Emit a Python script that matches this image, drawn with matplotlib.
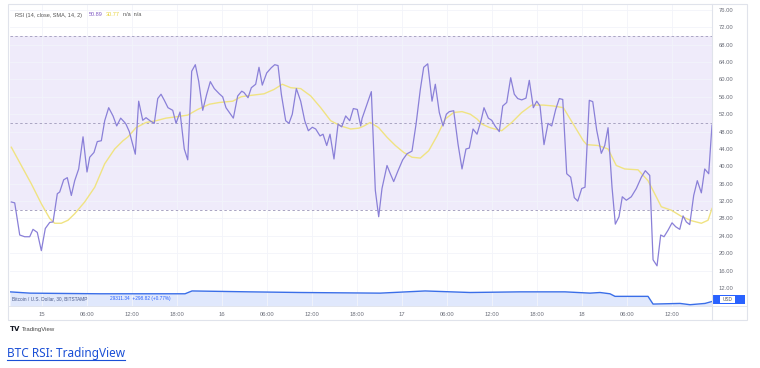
import matplotlib
matplotlib.use("Agg")
import matplotlib.pyplot as plt
from matplotlib.patches import Rectangle
from matplotlib.lines import Line2D

# ---- data (hours since 15th 00:00) ----
rsi_hours = [-4.09, -3.64, -2.97, -2.31, -1.64, -1.2, -0.63, -0.09, 0.44, 1.03, 1.47, 2.04, 2.36,
             2.89, 3.37, 3.91, 4.36, 4.89, 5.47, 6.0, 6.36, 6.93, 7.37, 7.91, 8.36, 8.89, 9.47,
             9.96, 10.49, 11.03, 11.2, 11.64, 12.44, 12.89, 13.43, 13.87, 14.4, 14.97, 15.43,
             15.87, 16.31, 16.8, 17.43, 17.87, 18.4, 18.97, 19.43, 19.96, 20.44, 20.89, 21.43,
             21.96, 22.44, 22.97, 23.64, 24.09, 24.53, 25.51, 26.09, 26.63, 26.93, 27.47, 27.91,
             28.49, 28.93, 29.37, 29.96, 30.57, 31.03, 31.47, 31.91, 32.49, 32.93, 33.37, 33.91,
             34.49, 35.03, 35.51, 36.04, 36.49, 37.07, 37.47, 37.96, 38.4, 38.93, 39.47, 39.96,
             40.49, 41.03, 41.51, 42.04, 42.49, 42.67, 43.33, 43.91, 44.44, 44.89, 45.33, 46.0,
             46.44, 46.89, 47.47, 48.09, 48.67, 49.33, 49.87, 50.44, 50.89, 51.43, 52.0, 52.44,
             52.97, 53.47, 53.91, 54.31, 54.89, 55.47, 56.0, 56.53, 56.97, 57.47, 58.0, 58.53,
             58.93, 59.51, 59.96, 60.4, 60.97, 61.43, 61.96, 62.49, 62.97, 63.43, 63.96, 64.53,
             64.97, 65.51, 65.96, 66.4, 66.93, 67.47, 67.96, 68.49, 68.97, 69.43, 69.96, 70.49,
             70.97, 71.43, 71.96, 72.4, 72.97, 73.43, 73.96, 74.57, 75.03, 75.47, 76.0, 76.44,
             76.93, 77.37, 77.91, 78.57, 79.24, 79.91, 80.44, 81.03, 81.47, 82.0, 82.49, 82.93,
             83.47, 84.0, 84.49, 85.03, 85.47, 85.91, 86.36, 86.89, 87.37, 87.91, 88.36, 88.89,
             89.33]
rsi_values = [31.8, 31.6, 24.2, 23.8, 23.8, 25.5, 24.8, 20.6, 25.7, 27.1, 27.2, 33.7, 34.1,
              36.9, 37.4, 33.3, 36.7, 39.4, 46.8, 38.7, 42.1, 43.2, 45.7, 45.9, 50.5, 53.5, 51.6,
              49.3, 51.1, 50.1, 49.7, 48.0, 42.8, 55.0, 50.6, 51.2, 50.5, 49.9, 55.6,
              56.6, 55.2, 53.5, 52.9, 49.9, 52.5, 44.0, 41.5, 61.9, 63.4, 59.6, 52.9,
              56.6, 59.5, 57.9, 56.7, 56.0, 53.5, 51.1, 56.2, 57.3, 57.0, 55.8, 58.1,
              58.9, 62.8, 58.7, 61.5, 62.7, 63.4, 63.2, 56.6, 50.5, 49.9, 52.0, 57.9,
              55.0, 50.5, 48.2, 49.0, 48.6, 47.0, 47.4, 44.8, 47.4, 41.7, 49.7, 49.1,
              51.6, 50.5, 53.3, 53.1, 49.3, 51.0, 54.3, 57.2, 34.5, 28.4, 34.9, 40.2,
              38.3, 36.5, 39.0, 41.5, 42.9, 43.5, 49.7, 57.7, 62.8, 63.6, 55.0, 58.9,
              52.4, 49.3, 52.0, 52.6, 52.8, 45.1, 39.4, 44.0, 44.2, 48.6, 47.4, 50.5,
              53.5, 51.1, 50.6, 49.3, 48.0, 53.9, 54.7, 60.4, 56.6, 55.6, 55.3, 55.7,
              59.8, 53.5, 55.0, 53.9, 45.0, 49.9, 49.3, 53.1, 55.6, 55.4, 38.3, 37.5,
              32.8, 32.0, 34.9, 35.2, 55.2, 54.9, 48.3, 43.0, 44.8, 48.9, 35.2, 26.7,
              28.4, 33.0, 32.2, 33.0, 34.9, 37.5, 39.0, 37.9, 18.5, 17.1, 24.2, 23.8,
              25.3, 27.0, 26.1, 25.5, 28.6, 27.2, 26.6, 33.3, 36.7, 33.9, 39.4, 38.3,
              49.5]

sma_hours = [-4.09, -2.76, -1.43, -0.09, 1.03, 1.69, 2.57, 3.47, 4.36, 5.69, 7.03, 8.36, 9.69,
             10.8, 11.47, 12.53, 13.87, 15.2, 16.53, 17.87, 19.43, 20.76, 22.31, 23.64, 25.43,
             26.53, 27.2, 29.6, 30.93, 32.04, 33.16, 34.49, 35.83, 37.16, 38.49, 39.83, 41.16,
             42.27, 42.93, 43.77, 44.89, 46.0, 47.11, 48.23, 49.33, 50.44, 51.56, 52.67, 53.77,
             54.89, 56.0, 57.11, 58.0, 58.67, 59.73, 61.29, 62.63, 63.96, 65.29, 66.84, 68.17,
             69.51, 70.84, 72.17, 72.63, 74.13, 75.47, 76.57, 77.69, 79.47, 80.8, 81.69, 82.57,
             83.91, 85.24, 86.57, 87.91, 88.8, 89.33]
sma_values = [44.4, 40.2, 36.0, 31.4, 28.0, 26.9, 26.9, 27.6, 29.1, 31.8, 35.2, 40.6, 44.0,
              45.9, 46.8, 48.9, 50.1, 50.5, 51.1, 51.4, 51.8, 53.1, 54.3, 54.7, 55.0,
              56.0, 56.2, 56.7, 57.7, 58.9, 58.1, 57.9, 56.2, 53.5, 50.5, 49.3, 48.6,
              48.8, 49.3, 50.1, 48.9, 46.7, 44.8, 43.2, 42.1, 41.9, 43.6, 47.0, 50.9,
              52.4, 52.6, 52.0, 50.9, 49.7, 48.9, 48.2, 50.1, 52.4, 54.1, 54.1, 53.9,
              53.5, 49.7, 45.9, 45.0, 44.8, 44.0, 40.2, 39.4, 39.2, 36.7, 33.7, 30.7,
              29.9, 28.5, 27.5, 26.9, 27.6, 30.3]

price_hours = [-4.27, -1.6, 7.73, 19.07, 20.0, 27.73, 34.4, 45.07, 51.07, 57.07, 63.73, 69.73,
               73.07, 74.4, 75.73, 76.4, 80.8, 81.47, 85.07, 86.4, 88.4, 89.33]
price_values = [30300, 30200, 30150, 30150, 30370, 30300, 30250, 30200, 30370, 30250, 30300,
                30300, 30200, 30250, 30150, 29950, 29950, 29350, 29400, 29300, 29400, 29550]

tick_hours = [0, 6, 12, 18, 24, 30, 36, 42, 48, 54, 60, 66, 72, 78, 84]
tick_labels = ["15", "06:00", "12:00", "18:00", "16", "06:00", "12:00", "18:00",
               "17", "06:00", "12:00", "18:00", "18", "06:00", "12:00"]
rsi_ticks = [12, 16, 20, 24, 28, 32, 36, 40, 44, 48, 52, 56, 60, 64, 68, 72, 76]
band_levels = [30, 50, 70]

# ---- figure ----
W, H = 760, 368
fig = plt.figure(figsize=(W / 100, H / 100), dpi=100)
fig.patch.set_facecolor("white")


def px_axes(x0, y0, x1, y1, **kw):
    return fig.add_axes([x0 / W, 1 - y1 / H, (x1 - x0) / W, (y1 - y0) / H], **kw)


grid_c = "#f2f4fa"
border_c = "#e0e3eb"
label_c = "#6a6d78"
rsi_c = "#8a80d8"
sma_c = "#f0e382"

xlim = (-4.267, 89.33)

ax = px_axes(10, 5, 712, 288)
ax.set_xlim(*xlim)
ax.set_ylim(12.46, 77.14)
for s in ax.spines.values():
    s.set_visible(False)
ax.set_xticks(tick_hours)
ax.set_xticklabels([])
ax.tick_params(axis="x", length=0)
ax.yaxis.tick_right()
ax.set_yticks(rsi_ticks)
ax.set_yticklabels([f"{v:.2f}" for v in rsi_ticks], fontsize=4.2, color=label_c,
                   family="Liberation Sans")
ax.tick_params(axis="y", length=0, pad=5)
ax.grid(True, color=grid_c, linewidth=0.6)
ax.set_axisbelow(True)

ax.axhspan(band_levels[0], band_levels[2], color="#efebfa", zorder=0.5, linewidth=0)
for lv in band_levels:
    ax.axhline(lv, color="#a9a4c2", linewidth=0.7, linestyle=(0, (2.5, 2.5)), zorder=1)

ax.plot(sma_hours, sma_values, color=sma_c, linewidth=1.0, zorder=2)
ax.plot(rsi_hours, rsi_values, color=rsi_c, linewidth=0.9, zorder=3)

# price pane
axp = px_axes(10, 288, 712, 306)
axp.set_xlim(*xlim)
axp.set_ylim(29200, 30600)
for s in axp.spines.values():
    s.set_visible(False)
axp.set_yticks([])
axp.set_xticks(tick_hours)
axp.set_xticklabels(tick_labels, fontsize=4.2, color=label_c, family="Liberation Sans")
axp.tick_params(axis="x", length=0, pad=4)
axp.grid(True, axis="x", color=grid_c, linewidth=0.6)
axp.fill_between(price_hours, price_values, 29200, color="#e0e8fc", linewidth=0)
axp.plot(price_hours, price_values, color="#3a6ee8", linewidth=1.0)

# borders
fig.add_artist(Rectangle((8 / W, 1 - 320 / H), (747 - 8) / W, (320 - 4) / H,
                         transform=fig.transFigure, fill=False, edgecolor=border_c, linewidth=0.8))
fig.add_artist(Line2D([712 / W, 712 / W], [1 - 320 / H, 1 - 4 / H], transform=fig.transFigure,
                      color=border_c, linewidth=0.8))
fig.add_artist(Line2D([8 / W, 747 / W], [1 - 306 / H, 1 - 306 / H], transform=fig.transFigure,
                      color=border_c, linewidth=0.6))

# legend text
fig.text(15 / W, 1 - 15 / H, "RSI (14, close, SMA, 14, 2)", fontsize=4, color="#555",
         family="Liberation Sans", va="center")
fig.text(89 / W, 1 - 15 / H, "50.89", fontsize=4, color="#7e57c2", family="Liberation Sans",
         va="center")
fig.text(106 / W, 1 - 15 / H, "30.77", fontsize=4, color="#e6d23a", family="Liberation Sans",
         va="center")
fig.text(123 / W, 1 - 15 / H, "n/a  n/a", fontsize=4, color="#555", family="Liberation Sans",
         va="center")

fig.text(12 / W, 1 - 298.5 / H, "Bitcoin / U.S. Dollar, 30, BITSTAMP", fontsize=3.4,
         color="#4a5a8a", family="Liberation Sans", va="center")
fig.text(110 / W, 1 - 298.5 / H, "29311.34  +298.82 (+0.77%)", fontsize=3.4,
         color="#2962ff", family="Liberation Sans", va="center")

# price badge
fig.add_artist(Rectangle((712 / W, 1 - 304 / H), 33 / W, 9 / H, transform=fig.transFigure,
                         facecolor="#2962ff", edgecolor="none"))
fig.add_artist(Rectangle((720 / W, 1 - 303 / H), 15 / W, 7 / H, transform=fig.transFigure,
                         facecolor="white", edgecolor="none"))
fig.text(727.5 / W, 1 - 299.5 / H, "USD", fontsize=3.4, color="#555", ha="center",
         va="center", family="Liberation Sans")

# TradingView logo
fig.text(10 / W, 1 - 329 / H, "TV", fontsize=5, color="#131722", weight="bold",
         va="center", family="DejaVu Sans")
fig.text(22 / W, 1 - 329 / H, "TradingView", fontsize=4.3, color="#444",
         va="center", family="Liberation Sans")

# caption link
fig.text(7 / W, 1 - 353 / H, "BTC RSI: TradingView", fontsize=8.5, color="#1a4fd6",
         va="center", family="Noto Sans")
fig.add_artist(Line2D([7 / W, 125 / W], [1 - 360 / H, 1 - 360 / H], transform=fig.transFigure,
                      color="#1a4fd6", linewidth=0.8))

fig.savefig("out.png", dpi=100)
